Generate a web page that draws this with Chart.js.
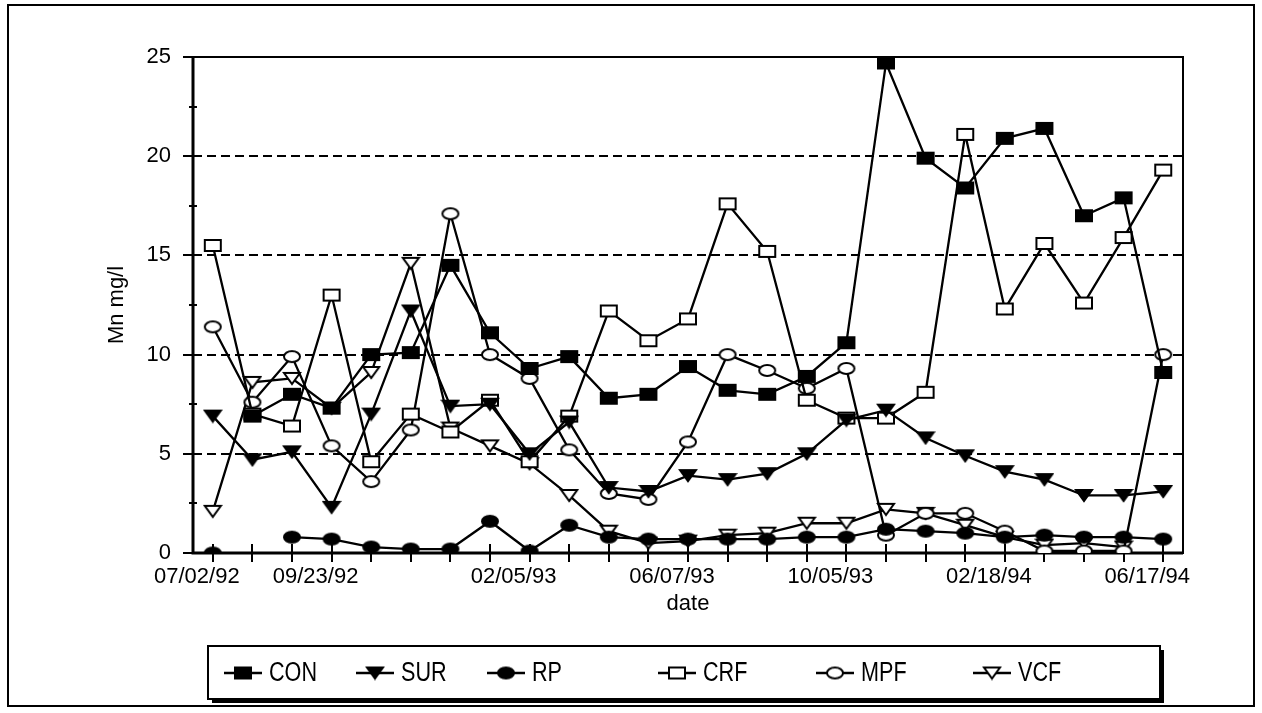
<!DOCTYPE html>
<html>
<head>
<meta charset="utf-8">
<title>Mn mg/l</title>
<script src="https://cdn.jsdelivr.net/npm/chart.js@4.4.1/dist/chart.umd.min.js"></script>
<style>
  html, body { margin: 0; padding: 0; background: #fff; }
</style>
</head>
<body>
<canvas id="myChart" width="1262" height="713"></canvas>
<script>
// sampling dates (only some of them are labelled on the axis)
const dates = ['07/02/92', '', '', '09/23/92', '', '', '', '', '02/05/93', '', '', '',
  '06/07/93', '', '', '', '10/05/93', '', '', '', '02/18/94', '', '', '', '06/17/94'];

const con = [null, 6.9, 8.0, 7.3, 10.0, 10.1, 14.5, 11.1, 9.3, 9.9, 7.8, 8.0, 9.4, 8.2, 8.0, 8.9, 10.6, 24.7, 19.9, 18.4, 20.9, 21.4, 17.0, 17.9, 9.1];
const sur = [6.9, 4.7, 5.1, 2.3, 7.0, 12.2, 7.4, 7.5, 5.0, 6.6, 3.3, 3.1, 3.9, 3.7, 4.0, 5.0, 6.7, 7.2, 5.8, 4.9, 4.1, 3.7, 2.9, 2.9, 3.1];
const rp  = [0, null, 0.8, 0.7, 0.3, 0.2, 0.2, 1.6, 0.1, 1.4, 0.8, 0.7, 0.7, 0.7, 0.7, 0.8, 0.8, 1.2, 1.1, 1.0, 0.8, 0.9, 0.8, 0.8, 0.7];
const crf = [15.5, 7.0, 6.4, 13.0, 4.6, 7.0, 6.1, 7.7, 4.6, 6.9, 12.2, 10.7, 11.8, 17.6, 15.2, 7.7, 6.8, 6.8, 8.1, 21.1, 12.3, 15.6, 12.6, 15.9, 19.3];
const mpf = [11.4, 7.6, 9.9, 5.4, 3.6, 6.2, 17.1, 10.0, 8.8, 5.2, 3.0, 2.7, 5.6, 10.0, 9.2, 8.3, 9.3, 0.9, 2.0, 2.0, 1.1, 0.1, 0.1, 0.1, 10.0];
const vcf = [2.1, 8.6, 8.8, 7.3, 9.1, 14.6, 6.3, 5.4, 4.5, 2.9, 1.1, 0.5, 0.6, 0.9, 1.0, 1.5, 1.5, 2.2, 2.0, 1.4, 0.8, 0.4, 0.5, 0.3, null];

const seriesNames = ['CON', 'SUR', 'RP', 'CRF', 'MPF', 'VCF'];

const axisFont = { family: 'Liberation Sans', size: 22 };

// little marker pictures, a bit wider than tall like the original
function makeMarker(shape, filled) {
  const c = document.createElement('canvas');
  c.width = 20; c.height = 15;
  const g = c.getContext('2d');
  g.lineWidth = 2;
  g.strokeStyle = '#000';
  g.fillStyle = filled ? '#000' : '#fff';
  g.beginPath();
  if (shape === 'rect') g.rect(2, 2, 16, 11);
  else if (shape === 'ellipse') g.ellipse(10, 7.5, 8, 5.5, 0, 0, Math.PI * 2);
  else { g.moveTo(2, 2); g.lineTo(18, 2); g.lineTo(10, 13); g.closePath(); }
  g.fill();
  g.stroke();
  return c;
}

const markers = [
  makeMarker('rect', true),
  makeMarker('tri', true),
  makeMarker('ellipse', true),
  makeMarker('rect', false),
  makeMarker('ellipse', false),
  makeMarker('tri', false)
];

const allData = [con, sur, rp, crf, mpf, vcf];

const datasets = allData.map((d, i) => ({
  label: seriesNames[i],
  data: d,
  borderColor: '#000',
  borderWidth: 2.3,
  pointStyle: markers[i],
  pointRadius: 8,
  tension: 0,
  spanGaps: false
}));

// axes frame, tick marks, legend box and outer frame
const decorations = {
  id: 'decorations',
  beforeDatasetsDraw(chart) {
    const { ctx, chartArea: a, scales: { x, y } } = chart;
    ctx.save();
    ctx.strokeStyle = '#000';
    ctx.lineWidth = 2;
    ctx.strokeRect(a.left, a.top, a.right - a.left, a.bottom - a.top);
    ctx.lineWidth = 3;
    ctx.beginPath();
    ctx.moveTo(a.left, a.top);
    ctx.lineTo(a.left, a.bottom);
    ctx.lineTo(a.right, a.bottom);
    ctx.stroke();
    ctx.lineWidth = 2;
    ctx.beginPath();
    for (let i = 0; i < dates.length; i++) {
      const px = Math.round(x.getPixelForTick(i));
      ctx.moveTo(px, a.bottom - 9);
      ctx.lineTo(px, a.bottom + 9);
    }
    for (let v = 0; v <= 25; v += 2.5) {
      const py = Math.round(y.getPixelForValue(v));
      if (v % 5 === 0) { ctx.moveTo(a.left - 10, py); ctx.lineTo(a.left, py); }
      else { ctx.moveTo(a.left - 4, py); ctx.lineTo(a.left + 4, py); }
    }
    ctx.stroke();
    ctx.restore();
  },
  afterDraw(chart) {
    const ctx = chart.ctx;
    ctx.save();
    ctx.strokeStyle = '#000';
    // outer frame
    ctx.lineWidth = 2;
    ctx.strokeRect(8, 5, 1246, 701);
    // legend box with shadow
    ctx.fillStyle = '#000';
    ctx.fillRect(212, 650, 952, 53);
    ctx.fillStyle = '#fff';
    ctx.fillRect(208, 646, 952, 53);
    ctx.strokeRect(208, 646, 952, 53);
    const lx = [224, 356, 487, 658, 816, 973];
    const ly = 673;
    ctx.font = '27px "Liberation Sans", sans-serif';
    ctx.textBaseline = 'middle';
    ctx.fillStyle = '#000';
    ctx.lineWidth = 2.3;
    seriesNames.forEach((name, i) => {
      ctx.beginPath();
      ctx.moveTo(lx[i], ly);
      ctx.lineTo(lx[i] + 38, ly);
      ctx.stroke();
      ctx.drawImage(markers[i], lx[i] + 19 - 10, ly - 7.5);
      // condensed legend lettering
      ctx.save();
      ctx.translate(lx[i] + 45, ly + 1);
      ctx.scale(0.8, 1);
      ctx.fillText(name, 0, 0);
      ctx.restore();
    });
    ctx.restore();
  }
};

const myChart = new Chart('myChart', {
  type: 'line',
  data: { labels: dates, datasets: datasets },
  plugins: [decorations],
  options: {
    responsive: false,
    animation: false,
    devicePixelRatio: 1,
    layout: { padding: { left: 0, right: 79, top: 57, bottom: 96 } },
    plugins: { legend: { display: false }, tooltip: { enabled: false } },
    scales: {
      x: {
        type: 'category',
        offset: true,
        grid: { display: false },
        border: { display: false },
        ticks: { autoSkip: false, maxRotation: 0, minRotation: 0, padding: 3, labelOffset: -16, color: '#000', font: axisFont },
        title: { display: true, text: 'date', color: '#000', font: axisFont, padding: 0 },
        afterFit(s) { s.height = 64; }
      },
      y: {
        min: 0,
        max: 25,
        ticks: {
          stepSize: 2.5,
          autoSkip: false,
          padding: 22,
          color: '#000',
          font: axisFont,
          callback: v => (v % 5 === 0 ? v : '')
        },
        grid: {
          drawTicks: false,
          lineWidth: 2,
          color: c => (c.tick && c.tick.value % 5 === 0 && c.tick.value > 0 && c.tick.value < 25) ? '#000' : 'rgba(0,0,0,0)'
        },
        border: { display: false, dash: [9, 5] },
        title: { display: true, text: 'Mn mg/l', color: '#000', font: axisFont, padding: { top: 104, bottom: 0 } },
        afterFit(s) { s.width = 193; }
      }
    }
  }
});
</script>
</body>
</html>
